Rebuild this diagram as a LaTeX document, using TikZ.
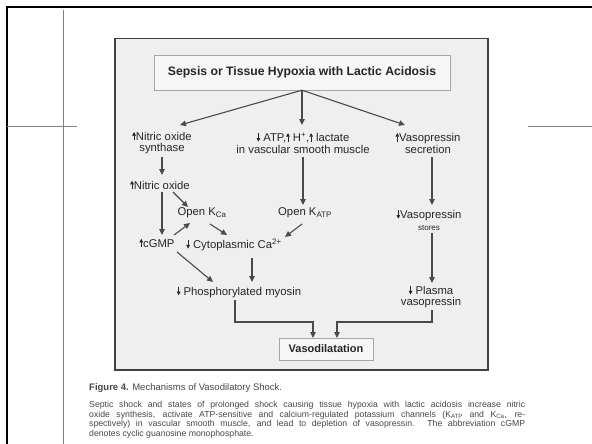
\documentclass[tikz,border=0pt]{standalone}
\usepackage{fontspec}
\setmainfont{Liberation Sans}
\usetikzlibrary{arrows.meta,calc}
\definecolor{txt}{HTML}{262626}
\definecolor{arrc}{HTML}{4A4A4A}
\definecolor{panel}{HTML}{EFEFEF}
\definecolor{boxfill}{HTML}{F6F6F6}
\newcommand\upa{\tikz[baseline=0pt]\draw[draw=txt,line width=0.65pt,-{Triangle[length=3.6pt,width=3.6pt]}] (0pt,0pt) -- (0pt,8.5pt);}
\newcommand\dna{\tikz[baseline=0pt]\draw[draw=txt,line width=0.65pt,-{Triangle[length=3.6pt,width=3.6pt]}] (0pt,8.5pt) -- (0pt,0pt);}
\begin{document}
\begin{tikzpicture}[x=1pt,y=-1pt,
  font=\fontsize{11.3}{11.5}\selectfont,
  txtn/.style={text=txt,align=center,inner sep=1pt},
  titlebox/.style={draw=black!35,fill=boxfill,minimum width=296pt,minimum height=35pt,inner sep=0pt,text=txt,font=\bfseries\fontsize{12.2}{14}\selectfont},
  vbox/.style={draw=black!35,fill=boxfill,minimum width=94pt,minimum height=22pt,inner sep=0pt,text=txt,font=\bfseries\fontsize{11}{13}\selectfont},
  con/.style={draw=arrc,line width=1.1pt,-{Triangle[length=6pt,width=5.5pt]}},
  capn/.style={text=txt!85,inner sep=0pt,font=\fontsize{8.7}{9.5}\selectfont}]
\useasboundingbox (0,0) rectangle (592,444);
\fill[white] (0,0) rectangle (592,444);
% page frame
\draw[line width=2pt] (7,444) -- (7,7) -- (592,7);
\draw[black!50,line width=1pt] (63,10) -- (63,444);
\draw[black!50,line width=1pt] (7,126) -- (77,126);
\draw[black!50,line width=1pt] (528,126) -- (592,126);
% panel
\draw[draw=black!75,fill=panel,line width=1.3pt] (115,38.5) rectangle (488,370);
% nodes
\node[titlebox] (title) at (302,72.5) {Sepsis or Tissue Hypoxia with Lactic Acidosis};
\node[txtn] (nos) at (162,143) {\upa Nitric oxide\\synthase};
\node[txtn] (atp) at (303,143) {\dna\ ATP,\upa\ H\textsuperscript{+},\upa\ lactate\\in vascular smooth muscle};
\node[txtn] (vps) at (428,143) {\upa Vasopressin\\secretion};
\node[txtn] (no) at (160,185) {\upa Nitric oxide};
\node[txtn] (kca) at (202,213) {Open K\textsubscript{Ca}};
\node[txtn] (katp) at (305,213) {Open K\textsubscript{ATP}};
\node[txtn] (vst) at (429,220) {\dna Vasopressin\\{\fontsize{8}{9}\selectfont stores}};
\node[txtn] (cgmp) at (157,243) {\upa cGMP};
\node[txtn] (cyto) at (234,245) {\dna\ Cytoplasmic Ca\textsuperscript{2+}};
\node[txtn] (myo) at (239,292) {\dna\ Phosphorylated myosin};
\node[txtn] (pla) at (431,297) {\dna\ Plasma\\vasopressin};
\node[vbox] (vaso) at (326,349) {Vasodilatation};
% connectors
\draw[con] (title.south) -- ($(nos)+(18,-18)$);
\draw[con] (title.south) -- ($(atp)+(-1,-18)$);
\draw[con] (title.south) -- ($(vps)+(-23,-18)$);
\draw[con] ($(nos)+(0,14)$) -- ($(no)+(2,-10)$);
\draw[con] ($(atp)+(0,14)$) -- ($(katp)+(-2,-8)$);
\draw[con] ($(vps)+(4,14)$) -- ($(vst)+(3,-15)$);
\draw[con] ($(no)+(2,7)$) -- ($(cgmp)+(5,-8)$);
\draw[con] ($(no)+(13,7)$) -- ($(kca)+(-14,-6)$);
\draw[con] ($(cgmp)+(17,-8)$) -- ($(kca)+(-12,10)$);
\draw[con] ($(kca)+(8,11)$) -- ($(cyto)+(-7,-10)$);
\draw[con] ($(katp)+(-3,11)$) -- ($(cyto)+(51,-8)$);
\draw[con] ($(vst)+(3,13)$) -- ($(pla)+(1,-14)$);
\draw[con] ($(cgmp)+(20,9)$) -- ($(myo)+(-26,-10)$);
\draw[con] ($(cyto)+(18,13)$) -- ($(myo)+(13,-10)$);
\draw[con] ($(myo)+(-4,8)$) |- ($(vaso)+(-13,-27)$) -- ($(vaso)+(-13,-11)$);
\draw[con] ($(pla)+(1,13)$) |- ($(vaso)+(11,-27)$) -- ($(vaso)+(11,-11)$);
% caption
\node[capn,anchor=base west,font=\fontsize{9.5}{11}\selectfont] (cap0) at (89,390.5) {\textbf{Figure 4.} Mechanisms of Vasodilatory Shock.};
\node[capn,anchor=base west] (cap1) at (89,407.5) {\makebox[436pt][s]{Septic shock and states of prolonged shock causing tissue hypoxia with lactic acidosis increase nitric}};
\node[capn,anchor=base west] (cap2) at (89,417) {\makebox[436pt][s]{oxide synthesis, activate ATP-sensitive and calcium-regulated potassium channels (K\textsubscript{ATP} and K\textsubscript{Ca}, re-}};
\node[capn,anchor=base west] (cap3) at (89,426.5) {\makebox[436pt][s]{spectively) in vascular smooth muscle, and lead to depletion of vasopressin. The abbreviation cGMP}};
\node[capn,anchor=base west] (cap4) at (89,436) {denotes cyclic guanosine monophosphate.};
\end{tikzpicture}
\end{document}
